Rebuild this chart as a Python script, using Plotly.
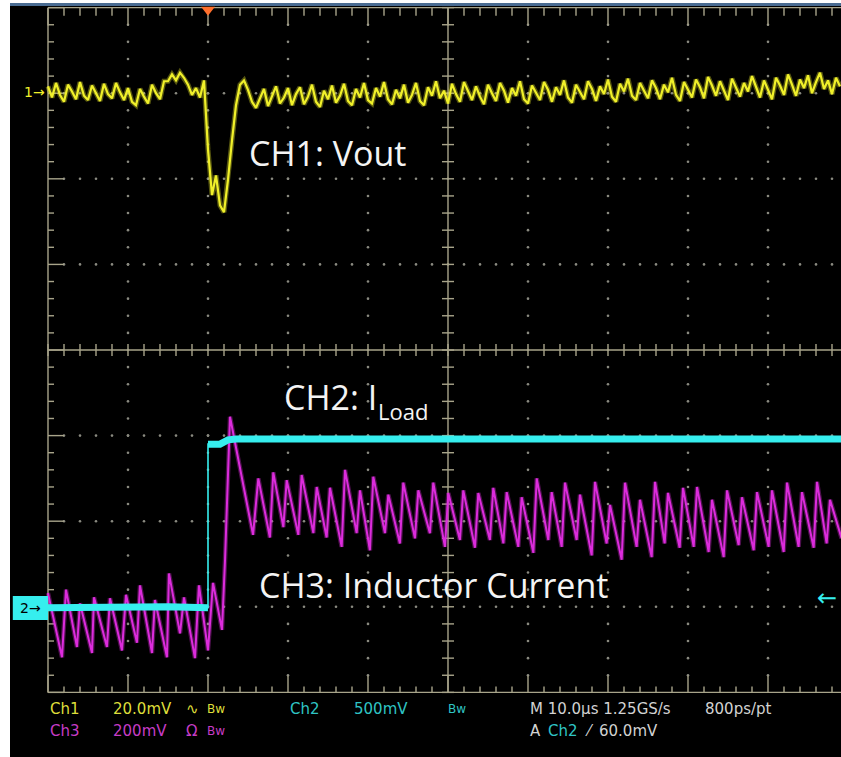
import plotly.graph_objects as go

# ---------------- data (time in µs from trigger, 10 µs/div; amplitude in screen divisions) -------------
ch1_t0 = -20.0
ch1_dt = 0.5
ch1_div = [
    3.08, 2.95, 3.12, 2.98, 2.90, 3.10, 3.02, 2.93, 3.13, 2.97,
    2.92, 3.09, 3.00, 2.91, 3.11, 2.99, 2.94, 3.12, 3.01, 2.92,
    3.06, 2.90, 2.86, 3.05, 2.96, 2.88, 3.10, 3.00, 2.93, 3.14,
    3.14, 3.22, 3.15, 3.24, 3.18, 3.10, 2.98, 3.06, 2.95, 3.15,
    2.34, 1.81, 2.04, 1.69, 1.61, 1.99, 2.45, 2.86, 3.10, 3.15, 3.04, 2.90, 2.83,
    2.94, 3.05, 2.85, 2.97, 3.08, 2.88, 2.95, 3.06, 2.86, 2.99,
    3.07, 2.87, 2.96, 3.10, 2.90, 2.84, 3.03, 2.93, 3.09, 2.89,
    2.97, 3.11, 2.91, 2.86, 3.05, 2.95, 3.12, 2.92, 2.88, 3.06,
    2.96, 3.13, 2.93, 2.87, 3.04, 2.94, 3.10, 2.89, 2.98, 3.12,
    2.91, 2.86, 3.07, 2.97, 3.14, 2.94, 3.03, 2.88, 3.11, 2.99,
    2.90, 3.13, 3.02, 2.92, 3.08, 2.96, 2.87, 3.10, 3.00, 2.91,
    3.12, 3.03, 2.89, 3.06, 2.97, 3.14, 2.93, 2.88, 3.09, 3.00,
    2.92, 3.13, 3.04, 2.90, 3.07, 2.98, 3.15, 2.95, 2.89, 3.10,
    3.01, 2.93, 3.14, 3.05, 2.91, 3.08, 2.99, 3.16, 2.96, 2.90,
    3.11, 3.02, 3.17, 2.97, 2.92, 3.12, 3.03, 2.94, 3.15, 3.06,
    2.93, 3.10, 3.01, 3.18, 2.98, 2.91, 3.13, 3.04, 2.95, 3.16,
    3.07, 2.94, 3.19, 3.09, 2.97, 3.14, 3.03, 2.92, 3.17, 3.06,
    2.96, 3.12, 3.02, 3.20, 3.08, 2.95, 3.15, 3.05, 2.93, 3.18,
    3.09, 2.98, 3.22, 3.10, 2.97, 3.16, 3.06, 3.21, 3.00, 3.13,
    3.24, 3.05, 3.15, 2.99, 3.18, 3.08,
]

ch2_pre_t = [-20.0, -15.0, -10.0, -5.0, 0.0]
ch2_pre_div = [-3.01, -3.00, -3.01, -3.00, -3.01]
ch2_post_t = [0.0, 1.5, 2.5, 3.5, 20.0, 40.0, 60.0, 79.2]
ch2_post_div = [-1.10, -1.10, -1.05, -1.04, -1.04, -1.03, -1.04, -1.04]

ch3_t = [
    -20.0, -18.25, -17.75, -16.38, -16.0, -14.5, -14.25, -12.63, -12.25, -10.75,
    -10.25, -8.88, -8.5, -7.0, -6.63, -5.13, -4.88, -3.5, -3.0, -1.63,
    -1.13, 0.0, 0.63, 1.75, 2.13, 2.38, 2.75, 5.63,
    6.29, 7.74, 8.16, 9.42, 9.84, 11.29, 11.71, 13.17, 13.59, 14.83, 15.25,
    16.71, 17.13, 18.58, 19.0, 20.24, 20.66, 22.12, 22.54, 23.99, 24.41,
    25.87, 26.29, 27.74, 28.16, 29.62, 30.04, 31.49, 31.91, 33.37, 33.79,
    35.24, 35.66, 36.92, 37.34, 38.79, 39.21, 40.67, 41.09, 42.54, 42.96,
    44.21, 44.63, 46.08, 46.5, 47.96, 48.38, 49.83, 50.25, 51.71, 52.13,
    53.58, 54.0, 55.46, 55.88, 57.08, 57.5, 58.96, 59.38, 60.71, 61.13,
    62.58, 63.0, 64.46, 64.88, 66.33, 66.75, 68.21, 68.63, 70.08, 70.5,
    71.96, 72.38, 73.83, 74.25, 75.71, 76.13, 77.33, 77.75, 79.2,
]
ch3_div = [
    -2.84, -3.59, -2.80, -3.47, -2.96, -3.54, -2.89, -3.47, -2.90, -3.51,
    -2.86, -3.42, -2.75, -3.54, -2.92, -3.59, -2.61, -3.31, -2.89, -3.60,
    -2.75, -3.51, -2.72, -3.27, -2.45, -1.75, -0.78, -2.16,
    -1.50, -2.19, -1.43, -2.07, -1.52, -2.16, -1.46, -2.14, -1.60, -2.19, -1.61,
    -2.30, -1.40, -2.14, -1.64, -2.34, -1.48, -2.14, -1.69, -2.26, -1.55,
    -2.20, -1.64, -2.14, -1.55, -2.30, -1.67, -2.22, -1.64, -2.31, -1.67,
    -2.22, -1.61, -2.26, -1.66, -2.30, -1.72, -2.37, -1.50, -2.22, -1.66,
    -2.30, -1.55, -2.22, -1.69, -2.40, -1.54, -2.26, -1.81, -2.45, -1.55,
    -2.30, -1.75, -2.42, -1.54, -2.26, -1.67, -2.31, -1.61, -2.30, -1.60,
    -2.36, -1.75, -2.42, -1.64, -2.28, -1.72, -2.34, -1.66, -2.30, -1.64,
    -2.36, -1.55, -2.30, -1.66, -2.31, -1.54, -2.26, -1.75, -2.20,
]

# status-bar texts: (text, time position, colour)
status_row1 = [("Ch1", -20.0, "#dede3a"), ("20.0mV", -12.1, "#dede3a"), ("∿", -3.0, "#dede3a"),
               ("Bw", -0.4, "#dede3a"), ("Ch2", 10.0, "#2fc4c4"), ("500mV", 18.0, "#2fc4c4"),
               ("Bw", 29.75, "#2fc4c4"), ("M 10.0µs 1.25GS/s", 40.0, "#d2d2d2"),
               ("800ps/pt", 61.9, "#d2d2d2")]
status_row2 = [("Ch3", -20.0, "#c63cc6"), ("200mV", -12.1, "#c63cc6"), ("Ω", -3.0, "#c63cc6"),
               ("Bw", -0.4, "#c63cc6"), ("A", 40.0, "#d2d2d2"), ("Ch2", 42.25, "#2fc4c4"),
               ("⁄", 46.9, "#d2d2d2"), ("60.0mV", 48.6, "#d2d2d2")]

# ---------------- screen geometry -------------
T0, T1 = -20.0, 80.0      # graticule edges (µs)
D0, D1 = -4.0, 4.0        # graticule edges (div)
PX_T = 0.125              # µs per pixel
PX_D = 1 / 85.6           # div per pixel

gx, gy = [], []


def seg(xa, ya, xb, yb):
    gx.extend([xa, xb, None])
    gy.extend([ya, yb, None])


seg(T0, D0, T0, D1)
seg(T0, D1, T1, D1)
seg(T0, D0, T1, D0)
seg(T0, 0, T1, 0)
seg(30, D0, 30, D1)
for k in range(51):
    t = T0 + 2 * k
    major = k % 5 == 0
    seg(t, D1, t, D1 - (18 if major else 8) * PX_D)
    seg(t, D0, t, D0 + (17 if major else 6) * PX_D)
    seg(t, -6 * PX_D, t, 6 * PX_D)
for j in range(41):
    d = D0 + 0.2 * j
    major = j % 5 == 0
    seg(T0, d, T0 + (16 if major else 6) * PX_T, d)
    seg(30 - 6 * PX_T, d, 30 + 6 * PX_T, d)

dx_, dy_ = [], []
for k in range(1, 10):
    t = T0 + 10 * k
    if t == 30:
        continue
    for j in range(1, 40):
        dx_.append(t)
        dy_.append(D0 + 0.2 * j)
for d in [-3, -2, -1, 1, 2, 3]:
    for k in range(1, 50):
        dx_.append(T0 + 2 * k)
        dy_.append(d)

fig = go.Figure()
fig.add_trace(go.Scatter(x=dx_, y=dy_, mode="markers",
                         marker=dict(size=2.6, color="#8a8a80"), hoverinfo="skip"))
fig.add_trace(go.Scatter(x=gx, y=gy, mode="lines",
                         line=dict(color="#a8a48a", width=1.4), hoverinfo="skip"))

YEL, MAG, CYA = "#f0f02a", "#dc2cdc", "#36eeee"

# CH3 inductor current (glow + core)
fig.add_trace(go.Scatter(x=ch3_t, y=ch3_div, mode="lines", opacity=0.35,
                         line=dict(color=MAG, width=4.5)))
fig.add_trace(go.Scatter(x=ch3_t, y=ch3_div, mode="lines",
                         line=dict(color=MAG, width=2)))
# CH2 load current: thin full path, thick flat parts
fig.add_trace(go.Scatter(x=ch2_pre_t + ch2_post_t, y=ch2_pre_div + ch2_post_div, mode="lines",
                         line=dict(color=CYA, width=1.6)))
fig.add_trace(go.Scatter(x=ch2_pre_t, y=ch2_pre_div, mode="lines",
                         line=dict(color=CYA, width=7)))
fig.add_trace(go.Scatter(x=ch2_post_t, y=ch2_post_div, mode="lines",
                         line=dict(color=CYA, width=7)))
# CH1 Vout (glow + core)
fig.add_trace(go.Scatter(x0=ch1_t0, dx=ch1_dt, y=ch1_div, mode="lines", opacity=0.35,
                         line=dict(color=YEL, width=5)))
fig.add_trace(go.Scatter(x0=ch1_t0, dx=ch1_dt, y=ch1_div, mode="lines",
                         line=dict(color=YEL, width=2.2)))
# trigger position marker
fig.add_trace(go.Scatter(x=[0], y=[D1 - 2 * PX_D], mode="markers",
                         marker=dict(symbol="triangle-down", size=12, color="#ff6f2c"),
                         hoverinfo="skip"))

ann = []
big = dict(family="Open Sans", size=34, color="#f4f4f4")
ann.append(dict(x=4.9, y=2.30, text="CH1: Vout", font=big, xanchor="left", yanchor="middle"))
ann.append(dict(x=9.2, y=-0.55, text="CH2: I", font=big, xanchor="left", yanchor="middle"))
ann.append(dict(x=21.0, y=-0.71, text="Load", font=dict(family="Open Sans", size=22, color="#f4f4f4"),
                xanchor="left", yanchor="middle"))
ann.append(dict(x=6.15, y=-2.74, text="CH3: Inductor Current", font=big, xanchor="left", yanchor="middle"))

# channel ground markers
ann.append(dict(x=-20.1, y=3.01, text="1→", font=dict(family="DejaVu Sans", size=14, color=YEL),
                xanchor="right", yanchor="middle"))
ann.append(dict(x=-22.2, y=-3.01, text="2→", font=dict(family="DejaVu Sans", size=14, color="#000000"),
                xanchor="center", yanchor="middle"))
ann.append(dict(x=78.9, y=-2.90, text="←", font=dict(family="DejaVu Sans", size=24, color=CYA),
                xanchor="right", yanchor="middle"))

sfont = "DejaVu Sans"
for row, yv in ((status_row1, -4.19), (status_row2, -4.45)):
    for txt, t, col in row:
        ann.append(dict(x=t, y=yv, text=txt, xanchor="left", yanchor="middle",
                        font=dict(family=sfont, size=15 if txt != "Bw" else 12, color=col)))
for a in ann:
    a.update(xref="x", yref="y", showarrow=False)

shapes = [
    dict(type="rect", xref="x", yref="y", x0=-24.4, x1=-20.0, y0=-3.155, y1=-2.875,
         fillcolor=CYA, line=dict(width=0), layer="above"),
    dict(type="rect", xref="paper", yref="paper", x0=0, x1=1, y0=1.0, y1=1 + 3 / 751,
         fillcolor="#4a6c92", line=dict(width=0)),
]

fig.update_layout(
    width=841, height=757,
    margin=dict(l=10, r=0, t=6, b=0, pad=0),
    paper_bgcolor="#ffffff", plot_bgcolor="#000000",
    showlegend=False,
    xaxis=dict(range=[-24.75, 79.125], visible=False, fixedrange=True),
    yaxis=dict(range=[-4.755, 4.019], visible=False, fixedrange=True),
    annotations=ann, shapes=shapes,
)
fig.write_html("out.html", config={"displayModeBar": False},
               post_script="document.body.style.margin='0px';")
